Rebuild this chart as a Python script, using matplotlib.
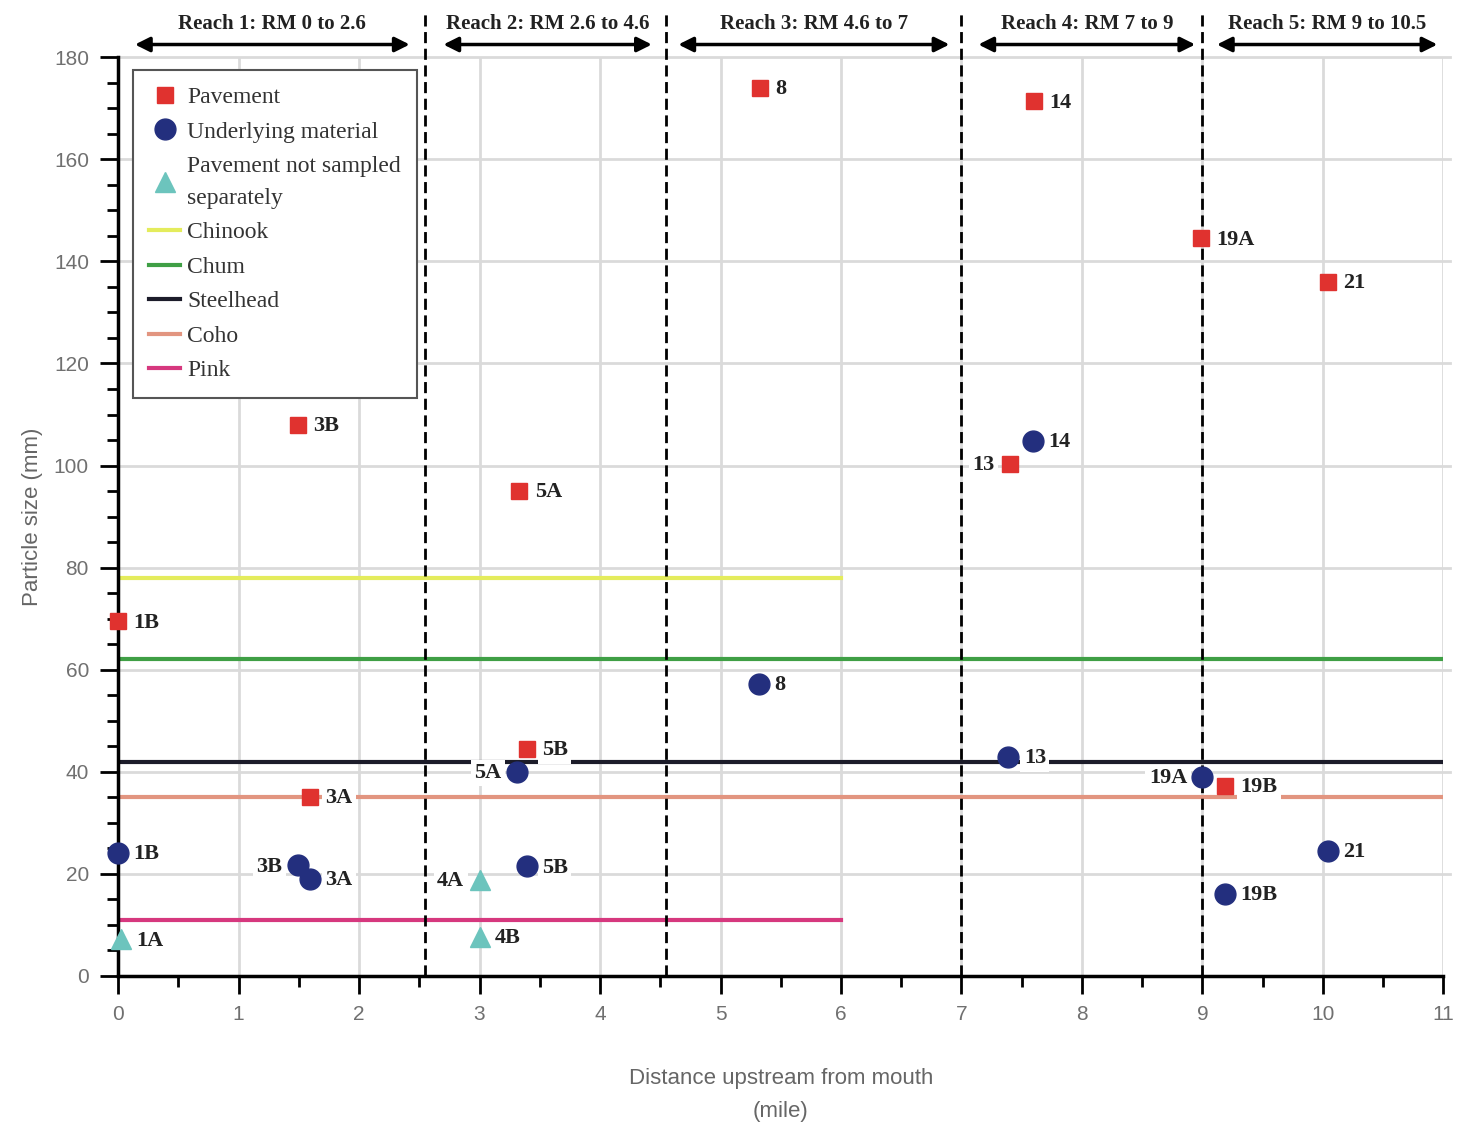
import matplotlib
matplotlib.use("Agg")
import matplotlib.pyplot as plt
from matplotlib.ticker import MultipleLocator

# sample points: river mile, particle size (mm), site label, label side
pave_x = [0.0, 1.49, 1.59, 3.33, 3.39, 5.33, 7.60, 7.40, 8.99, 10.04, 9.19]
pave_y = [69.5, 108, 35.1, 95.0, 44.5, 174, 171.4, 100.3, 144.5, 136, 37.2]
pave_lab = ["1B", "3B", "3A", "5A", "5B", "8", "14", "13", "19A", "21", "19B"]
pave_side = ["r", "r", "r", "r", "r", "r", "r", "l", "r", "r", "r"]

under_x = [0.0, 1.49, 1.59, 3.31, 3.39, 5.32, 7.59, 7.39, 9.0, 9.19, 10.04]
under_y = [24.1, 21.7, 19.0, 40.0, 21.5, 57.2, 104.8, 42.9, 39.0, 16.1, 24.5]
under_lab = ["1B", "3B", "3A", "5A", "5B", "8", "14", "13", "19A", "19B", "21"]
under_side = ["r", "l", "r", "l", "r", "r", "r", "r", "l", "r", "r"]

tri_x = [0.02, 3.0, 3.0]
tri_y = [7.2, 18.8, 7.6]
tri_lab = ["1A", "4A", "4B"]
tri_side = ["r", "l", "r"]

# fish criteria lines: name, size, extent in river miles
fish = ["Chinook", "Chum", "Steelhead", "Coho", "Pink"]
fish_size = [78, 62, 42, 35, 11]
fish_end = [6, 11, 11, 11, 6]
fish_col = ["#e4ec5c", "#3f9f45", "#1c1c2a", "#e29580", "#d6387e"]

reach_lab = ["Reach 1: RM 0 to 2.6", "Reach 2: RM 2.6 to 4.6", "Reach 3: RM 4.6 to 7",
             "Reach 4: RM 7 to 9", "Reach 5: RM 9 to 10.5"]
reach_from = [0.14, 2.70, 4.65, 7.14, 9.12]
reach_to = [2.42, 4.43, 6.90, 8.94, 10.95]
bounds = [2.55, 4.55, 7.0, 9.0]

serif = "Liberation Serif"
sans = "Liberation Sans"
fig = plt.figure(figsize=(14.58, 11.23), dpi=100)
ax = fig.add_axes([0.081, 0.131, 0.909, 0.818])
ax.set_xlim(0, 11)
ax.set_ylim(0, 180)

for x in range(1, 12):
    ax.axvline(x, color="#dadada", lw=2, zorder=0)
for y in range(20, 181, 20):
    ax.axhline(y, color="#dadada", lw=2, zorder=0, xmax=1.005, clip_on=False)

handles = []
for name, s, e, c in zip(fish, fish_size, fish_end, fish_col):
    ln, = ax.plot([0, e], [s, s], color=c, lw=3, zorder=2, label=name)
    handles.append(ln)

for b in bounds:
    ax.plot([b, b], [0, 189], color="black", lw=2, ls=(0, (4, 2)), zorder=3, clip_on=False)

hp, = ax.plot(pave_x, pave_y, "s", ms=12, color="#e0322f", zorder=6, clip_on=False,
              label="Pavement", ls="none")
hu, = ax.plot(under_x, under_y, "o", ms=15, color="#232f7e", zorder=6, clip_on=False,
              label="Underlying material", ls="none")
ht, = ax.plot(tri_x, tri_y, "^", ms=15, color="#6cc4bd", zorder=6, clip_on=False,
              label="Pavement not sampled\nseparately", ls="none")

def put_labels(xs, ys, labs, sides):
    for x, y, t, sd in zip(xs, ys, labs, sides):
        dx = 11 if sd == "r" else -11
        ax.annotate(t, (x, y), xytext=(dx, -1), textcoords="offset points",
                    ha="left" if sd == "r" else "right", va="center",
                    fontsize=16, fontweight="bold", family=serif, color="#222222",
                    zorder=4, annotation_clip=False,
                    bbox=dict(boxstyle="square,pad=0.15", fc="white", ec="none"))

put_labels(pave_x, pave_y, pave_lab, pave_side)
put_labels(under_x, under_y, under_lab, under_side)
put_labels(tri_x, tri_y, tri_lab, tri_side)

for lab, a, b in zip(reach_lab, reach_from, reach_to):
    ax.annotate("", xy=(b, 182.5), xytext=(a, 182.5),
                arrowprops=dict(arrowstyle="<|-|>", lw=2.5, color="black", mutation_scale=22,
                                shrinkA=0, shrinkB=0),
                annotation_clip=False)
    ax.text((a + b) / 2, 186.6, lab, ha="center", va="center", fontsize=15,
            fontweight="bold", family=serif, color="#222222")

leg = ax.legend(handles=[hp, hu, ht] + handles, loc="upper left",
                bbox_to_anchor=(0.011, 0.986), borderaxespad=0, fancybox=False,
                edgecolor="#555555", framealpha=1, handlelength=1.3, handletextpad=0.3,
                labelspacing=0.55, borderpad=0.7,
                prop=dict(family=serif, size=17))
leg.get_frame().set_linewidth(1.5)
leg.set_zorder(7)
for t in leg.get_texts():
    t.set_color("#333333")
    t.set_linespacing(1.7)

for side in ["top", "right"]:
    ax.spines[side].set_visible(False)
for side in ["left", "bottom"]:
    ax.spines[side].set_linewidth(2.5)
    ax.spines[side].set_zorder(5)

ax.xaxis.set_major_locator(MultipleLocator(1))
ax.xaxis.set_minor_locator(MultipleLocator(0.5))
ax.yaxis.set_major_locator(MultipleLocator(20))
ax.yaxis.set_minor_locator(MultipleLocator(5))
ax.tick_params(which="major", direction="out", length=13, width=2, labelsize=15,
               labelcolor="#707070", pad=8)
ax.tick_params(which="minor", direction="out", length=8, width=2)
for t in ax.get_xticklabels() + ax.get_yticklabels():
    t.set_family(sans)

ax.set_xlabel("Distance upstream from mouth\n(mile)", fontsize=16, color="#666666",
              family=sans, labelpad=32, linespacing=1.7)
ax.set_ylabel("Particle size (mm)", fontsize=16, color="#666666", family=sans, labelpad=8)

fig.savefig("out.png", dpi=100)
